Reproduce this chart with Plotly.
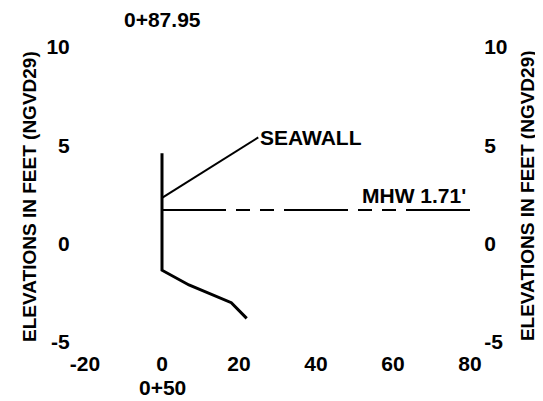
import plotly.graph_objects as go

# Data
profile_x = [0, 0, 7, 12.5, 18, 22]
profile_y = [4.6, -1.35, -2.1, -2.55, -3.0, -3.8]

leader_x = [0, 25]
leader_y = [2.33, 5.4]

mhw_x = [0, 80]
mhw_y = [1.71, 1.71]

x_ticks = [-20, 0, 20, 40, 60, 80]
x_ticktext = ["-20", "0", "20", "40", "60", "80"]
y_ticks = [-5, 0, 5, 10]
y_ticktext = ["-5", "0", "5", "10"]

station_top = "0+87.95"
station_bottom = "0+50"
seawall_label = "SEAWALL"
mhw_label = "MHW 1.71'"
y_title = "ELEVATIONS IN FEET (NGVD29)"

FONT = "Liberation Sans, Arial, sans-serif"

fig = go.Figure()
fig.add_trace(go.Scatter(x=profile_x, y=profile_y, mode="lines",
                         line=dict(color="black", width=3), showlegend=False, hoverinfo="skip"))
fig.add_trace(go.Scatter(x=leader_x, y=leader_y, mode="lines",
                         line=dict(color="black", width=2), showlegend=False, hoverinfo="skip"))
fig.add_trace(go.Scatter(x=mhw_x, y=mhw_y, mode="lines", yaxis="y2",
                         line=dict(color="black", width=2, dash="64px,10px,14px,10px,14px,10px"),
                         showlegend=False, hoverinfo="skip"))

fig.add_annotation(x=leader_x[-1], y=leader_y[-1], text=seawall_label, showarrow=False,
                   xanchor="left", yanchor="middle", xref="x", yref="y")
fig.add_annotation(x=79.5, y=mhw_y[0], text=mhw_label, showarrow=False,
                   xanchor="right", yanchor="bottom", yshift=1, xref="x", yref="y")
fig.add_annotation(x=0, y=1.092, text=station_top, showarrow=False,
                   xanchor="center", yanchor="middle", xref="x", yref="paper")
fig.add_annotation(x=0, y=-0.153, text=station_bottom, showarrow=False,
                   xanchor="center", yanchor="middle", xref="x", yref="paper")
# y-axis titles (both read bottom-to-top as in the reference)
fig.add_annotation(x=-0.143, y=0.495, text=y_title, showarrow=False, textangle=-90,
                   xanchor="center", yanchor="middle", xref="paper", yref="paper",
                   font=dict(size=19))
fig.add_annotation(x=1.151, y=0.495, text=y_title, showarrow=False, textangle=-90,
                   xanchor="center", yanchor="middle", xref="paper", yref="paper",
                   font=dict(size=19))

axis_common = dict(showgrid=False, zeroline=False, showline=False, automargin=False,
                   ticks="outside", tickcolor="rgba(0,0,0,0)")

# the page body adds an 8px offset, so the figure is 8px smaller and shifted back
fig.update_layout(
    width=535, height=393,
    margin=dict(l=77, r=73, t=39, b=59),
    paper_bgcolor="white", plot_bgcolor="white",
    font=dict(family=FONT, size=21, color="black", weight="bold"),
    xaxis=dict(range=[-20, 80], tickvals=x_ticks, ticktext=x_ticktext, ticklen=3, **axis_common),
    yaxis=dict(range=[-5, 10], tickvals=y_ticks, ticktext=y_ticktext, ticklen=10, **axis_common),
    yaxis2=dict(range=[-5, 10], tickvals=y_ticks, ticktext=y_ticktext, ticklen=9,
                overlaying="y", side="right", **axis_common),
)

fig.write_html("out.html")
